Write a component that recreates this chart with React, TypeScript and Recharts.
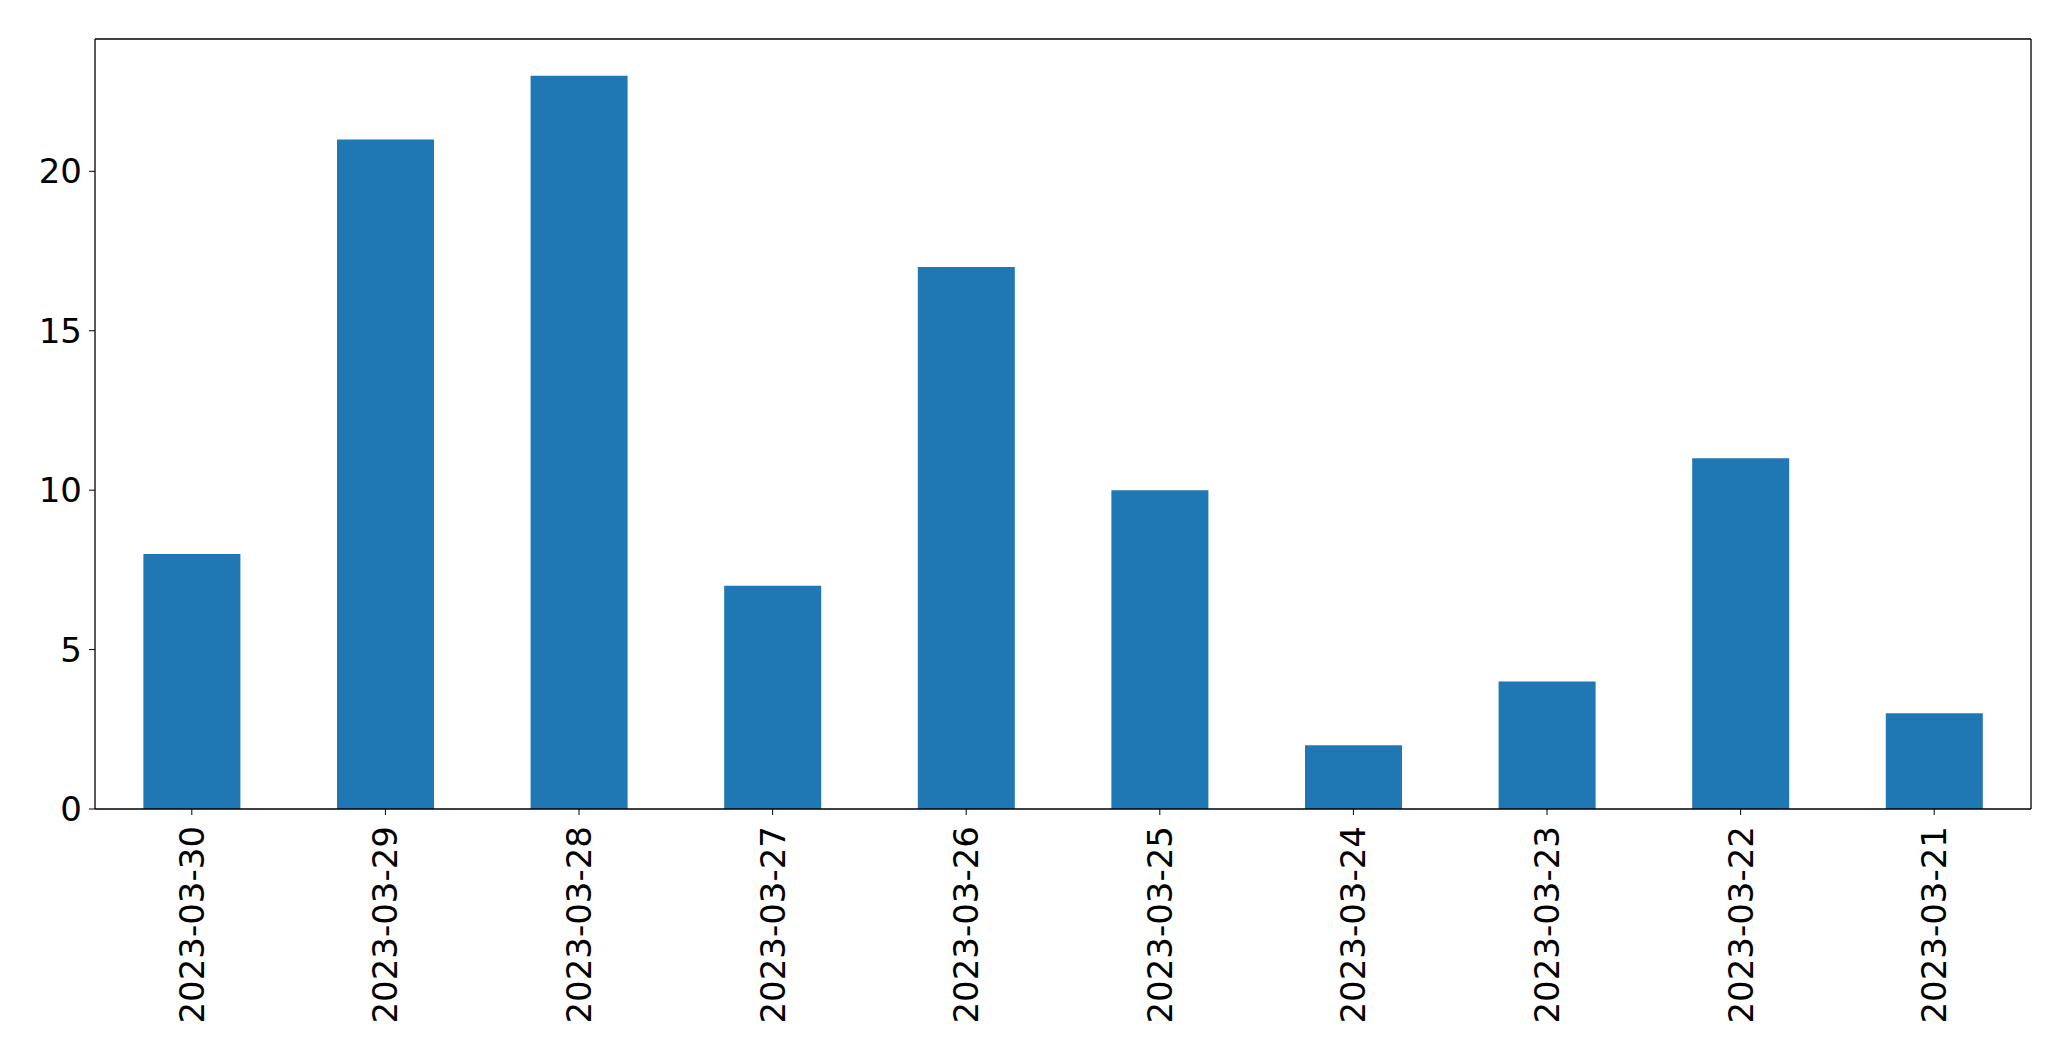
import { BarChart, Bar, XAxis, YAxis } from "recharts";

const dates = [
  "2023-03-30", "2023-03-29", "2023-03-28", "2023-03-27", "2023-03-26",
  "2023-03-25", "2023-03-24", "2023-03-23", "2023-03-22", "2023-03-21",
];
const counts = [8, 21, 23, 7, 17, 10, 2, 4, 11, 3];
const yTicks = [0, 5, 10, 15, 20];

const data = dates.map((d, i) => ({ date: d, count: counts[i] }));

const font = "DejaVu Sans";

const DateTick = (props: any) => {
  const { x, y, payload } = props;
  const ty = y + 9;
  return (
    <text
      x={x}
      y={ty}
      transform={`rotate(-90, ${x}, ${ty})`}
      textAnchor="end"
      dominantBaseline="central"
      fontSize={34}
      fontFamily={font}
      fill="#000"
    >
      {payload.value}
    </text>
  );
};

const App = () => {
  return (
    <div style={{ position: "absolute", left: 0, top: 0, background: "#fff" }}>
      <BarChart
        width={2071}
        height={1061}
        data={data}
        margin={{ top: 38, right: 39, left: 0, bottom: 22 }}
        barCategoryGap="25%"
      >
        <XAxis
          dataKey="date"
          interval={0}
          height={230}
          tick={<DateTick />}
          tickSize={6}
          axisLine={{ stroke: "#000", strokeWidth: 1.3 }}
          tickLine={{ stroke: "#000" }}
        />
        <XAxis
          xAxisId="top"
          orientation="top"
          dataKey="date"
          height={1}
          tick={false}
          tickLine={false}
          axisLine={{ stroke: "#000", strokeWidth: 1.3 }}
        />
        <YAxis
          domain={[0, 24.15]}
          ticks={yTicks}
          width={95}
          tickSize={6}
          tickMargin={7}
          interval={0}
          tick={{ fontSize: 34, fontFamily: font, fill: "#000" }}
          axisLine={{ stroke: "#000", strokeWidth: 1.3 }}
          tickLine={{ stroke: "#000" }}
        />
        <YAxis
          yAxisId="right"
          orientation="right"
          domain={[0, 24.15]}
          width={1}
          tick={false}
          tickLine={false}
          axisLine={{ stroke: "#000", strokeWidth: 1.3 }}
        />
        <Bar dataKey="count" fill="#1f77b4" isAnimationActive={false} />
      </BarChart>
    </div>
  );
};

export default App;
